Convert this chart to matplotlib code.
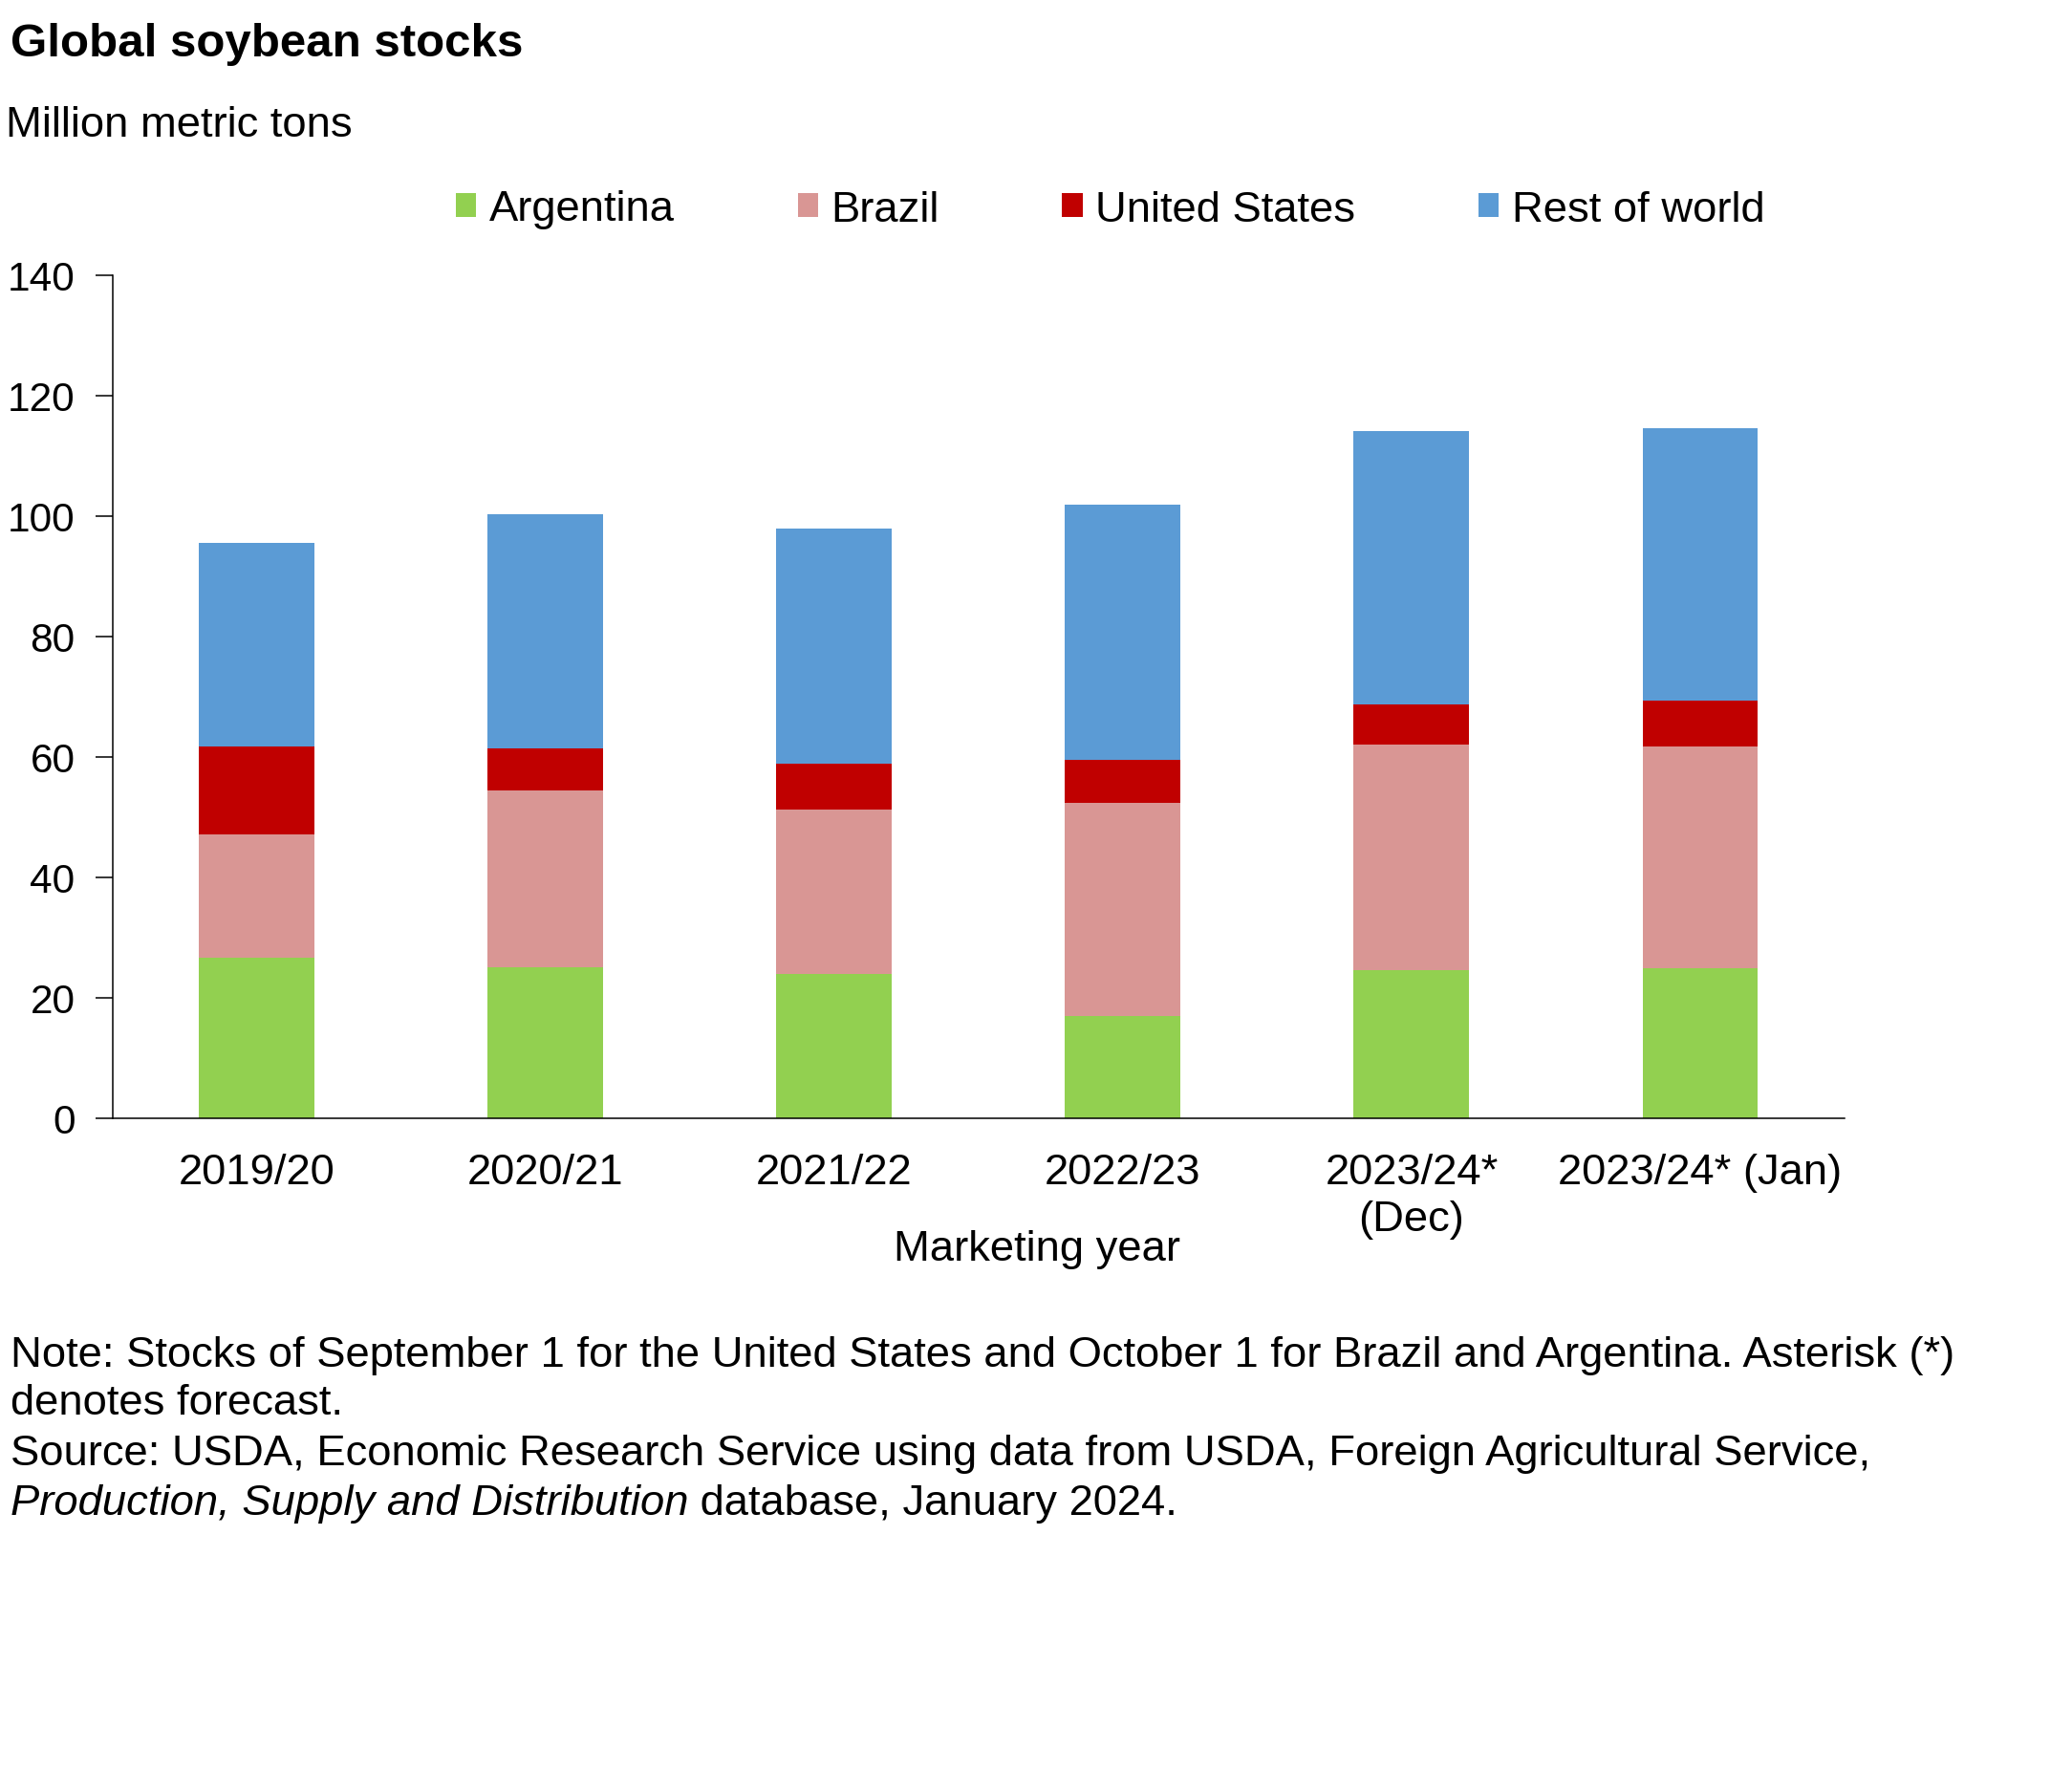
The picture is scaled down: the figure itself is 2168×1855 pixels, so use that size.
import matplotlib
matplotlib.use("Agg")
import matplotlib.pyplot as plt
import numpy as np

plt.rcParams['font.family'] = ['Liberation Sans', 'DejaVu Sans']

years = ["2019/20", "2020/21", "2021/22", "2022/23", "2023/24*\n(Dec)", "2023/24* (Jan)"]
argentina = [26.6, 25.1, 24.0, 17.0, 24.6, 25.0]
brazil = [20.6, 29.4, 27.3, 35.4, 37.5, 36.7]
united_states = [14.6, 7.0, 7.6, 7.2, 6.7, 7.6]
rest_of_world = [33.8, 38.8, 39.1, 42.3, 45.4, 45.3]

series = [("Argentina", argentina, "#92D050"),
          ("Brazil", brazil, "#D99694"),
          ("United States", united_states, "#C00000"),
          ("Rest of world", rest_of_world, "#5B9BD5")]

W, H = 2168, 1856
DPI = 100
FS = 32.7
fig = plt.figure(figsize=(W / DPI, H / DPI), dpi=DPI)

ax = fig.add_axes([117.5 / W, 1 - 1171 / H, (1930 - 117.5) / W, (1171 - 289) / H])
x = np.arange(len(years))
bottom = np.zeros(len(years))
handles = []
for name, vals, col in series:
    b = ax.bar(x, vals, width=0.40, bottom=bottom, color=col, label=name, linewidth=0)
    handles.append(b)
    bottom += np.array(vals)

ax.set_xlim(-0.5, len(years) - 0.5)
ax.set_ylim(0, 140)
ax.set_yticks(np.arange(0, 141, 20))
ax.set_xticks(x)
ax.set_xticklabels(years, linespacing=1.25)
ax.tick_params(axis='y', labelsize=30.5, length=13, width=1.1, direction='out', pad=15)
ax.tick_params(axis='x', labelsize=FS, length=0, pad=26)
for s in ['top', 'right']:
    ax.spines[s].set_visible(False)
for s in ['left', 'bottom']:
    ax.spines[s].set_linewidth(1.1)

fig.text(1085 / W, 1 - 1307 / H, "Marketing year", fontsize=FS, ha='center', va='center')

fig.text(11 / W, 1 - 59 / H, "Global soybean stocks", fontsize=35.5, fontweight='bold',
         ha='left', va='baseline')
fig.text(6 / W, 1 - 143 / H, "Million metric tons", fontsize=FS, ha='left', va='baseline')

leg = fig.legend(handles=handles, labels=[s[0] for s in series], loc='center left',
                 bbox_to_anchor=(477 / W, 1 - 220 / H), ncol=4, frameon=False,
                 fontsize=FS, handlelength=0.47, handleheight=0.47, handletextpad=0.3,
                 columnspacing=2.83, borderpad=0, borderaxespad=0)

note_y = [1419, 1469, 1522, 1574]
fig.text(11 / W, 1 - note_y[0] / H,
         "Note: Stocks of September 1 for the United States and October 1 for Brazil and Argentina. Asterisk (*)",
         fontsize=FS, ha='left', va='center')
fig.text(11 / W, 1 - note_y[1] / H, "denotes forecast.", fontsize=FS, ha='left', va='center')
fig.text(11 / W, 1 - note_y[2] / H,
         "Source: USDA, Economic Research Service using data from USDA, Foreign Agricultural Service,",
         fontsize=FS, ha='left', va='center')
t1 = fig.text(11 / W, 1 - note_y[3] / H, "Production, Supply and Distribution",
              fontsize=FS, ha='left', va='center', style='italic')
fig.canvas.draw()
bb = t1.get_window_extent()
fig.text(bb.x1 / W, 1 - note_y[3] / H, " database, January 2024.", fontsize=FS,
         ha='left', va='center')

fig.savefig("out.png", dpi=DPI)
